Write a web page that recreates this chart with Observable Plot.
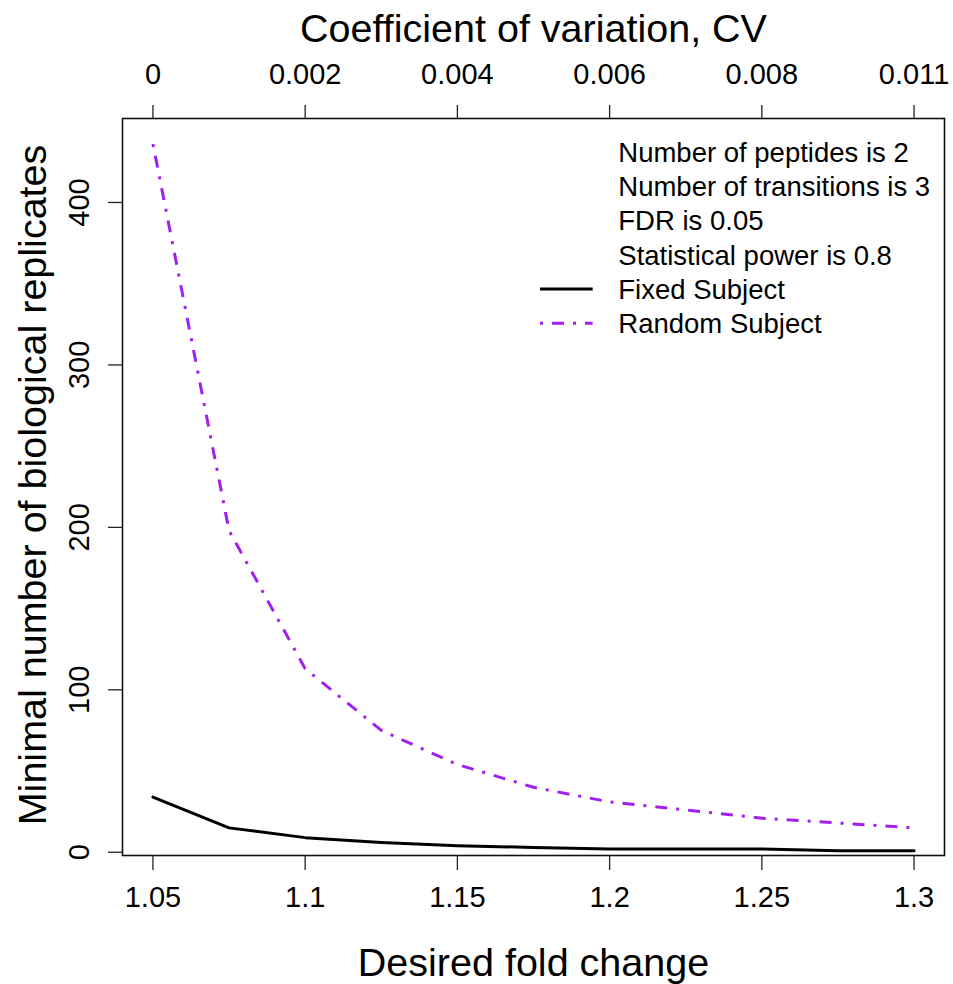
<!DOCTYPE html>
<html>
<head>
<meta charset="utf-8">
<script src="https://cdn.jsdelivr.net/npm/d3@7"></script>
<script src="https://cdn.jsdelivr.net/npm/@observablehq/plot@0.6"></script>
<style>
  body { margin: 0; background: #fff; }
  #chart svg { display: block; }
</style>
</head>
<body>
<div id="chart"></div>
<script>
// ---- data ----
const foldChange    = [1.05, 1.075, 1.1, 1.125, 1.15, 1.175, 1.2, 1.225, 1.25, 1.275, 1.3];
const fixedSubject  = [34, 15, 9, 6, 4, 3, 2, 2, 2, 1, 1];
const randomSubject = [436, 198, 113, 75, 54, 40, 31, 26, 21, 18, 15];

const xTicks       = [1.05, 1.1, 1.15, 1.2, 1.25, 1.3];
const xTickLabels  = ["1.05", "1.1", "1.15", "1.2", "1.25", "1.3"];
const cvTickLabels = ["0", "0.002", "0.004", "0.006", "0.008", "0.011"];
const yTicks       = [0, 100, 200, 300, 400];

const xTitle   = "Desired fold change";
const topTitle = "Coefficient of variation, CV";
const yTitle   = "Minimal number of biological replicates";

const legendInfo   = ["Number of peptides is 2", "Number of transitions is 3", "FDR is 0.05", "Statistical power is 0.8"];
const seriesNames  = ["Fixed Subject", "Random Subject"];
const seriesColors = ["#000000", "#A020F0"];
const seriesDash   = [null, "3,9,12,9"];

// ---- layout ----
const FONT = "'Liberation Sans', Arial, Helvetica, sans-serif";

function legendMark(index, scales, values, dims) {
  const g = d3.create("svg:g")
    .attr("font-family", FONT)
    .attr("font-size", 27.5)
    .attr("text-anchor", "start")
    .attr("fill", "#000");
  const right = dims.width - dims.marginRight;
  const top = dims.marginTop;
  const lines = [...legendInfo, ...seriesNames];
  const step = 34.3, first = 43.7;
  lines.forEach((t, i) => {
    g.append("text")
      .attr("x", right - 325.7)
      .attr("y", top + first + step * i)
      .attr("text-anchor", "start")
      .text(t);
  });
  seriesNames.forEach((s, j) => {
    const yy = top + first + step * (legendInfo.length + j) - 10;
    const ln = g.append("line")
      .attr("x1", right - 404).attr("x2", right - 351.3)
      .attr("y1", yy).attr("y2", yy)
      .attr("stroke", seriesColors[j])
      .attr("stroke-width", 3);
    if (seriesDash[j]) ln.attr("stroke-dasharray", seriesDash[j]);
  });
  return g.node();
}

const chart = Plot.plot({
  width: 953,
  height: 984,
  marginLeft: 122,
  marginRight: 9,
  marginTop: 118,
  marginBottom: 129,
  style: { fontFamily: FONT, background: "#fff", color: "#000", overflow: "visible" },
  x: { domain: [1.04, 1.31] },
  y: { domain: [-2, 451.7] },
  marks: [
    Plot.frame({ stroke: "#111", strokeWidth: 1.6 }),
    Plot.axisX({
      anchor: "bottom", ticks: xTicks,
      tickFormat: d => xTickLabels[xTicks.indexOf(d)],
      tickSize: 15, tickPadding: 16, fontSize: 29, label: null,
      stroke: "#222", strokeWidth: 1.3
    }),
    Plot.axisX({
      anchor: "top", ticks: xTicks,
      tickFormat: d => cvTickLabels[xTicks.indexOf(d)],
      tickSize: 14, tickPadding: 21, fontSize: 29, label: null,
      stroke: "#222", strokeWidth: 1.3
    }),
    Plot.axisY({
      anchor: "left", ticks: yTicks,
      tickFormat: () => "", tickSize: 14, label: null,
      stroke: "#222", strokeWidth: 1.3
    }),
    Plot.text(yTicks, {
      y: d => d, text: d => String(d),
      frameAnchor: "left", rotate: -90, dx: -34,
      lineAnchor: "bottom", textAnchor: "middle", fontSize: 29, fill: "#000"
    }),
    Plot.text([xTitle], {
      text: d => d, frameAnchor: "bottom", dy: 120,
      lineAnchor: "bottom", textAnchor: "middle", fontSize: 39.5, fill: "#000"
    }),
    Plot.text([topTitle], {
      text: d => d, frameAnchor: "top", dy: -77,
      lineAnchor: "bottom", textAnchor: "middle", fontSize: 39.5, fill: "#000"
    }),
    Plot.text([yTitle], {
      text: d => d, frameAnchor: "left", dx: -77, dy: -2, rotate: -90,
      lineAnchor: "bottom", textAnchor: "middle", fontSize: 39.5, fill: "#000"
    }),
    Plot.line(foldChange, {
      x: d => d, y: (d, i) => randomSubject[i],
      stroke: seriesColors[1], strokeWidth: 3,
      strokeDasharray: seriesDash[1], strokeLinecap: "butt"
    }),
    Plot.line(foldChange, {
      x: d => d, y: (d, i) => fixedSubject[i],
      stroke: seriesColors[0], strokeWidth: 3
    }),
    legendMark
  ]
});

document.getElementById("chart").appendChild(chart);
</script>
</body>
</html>
